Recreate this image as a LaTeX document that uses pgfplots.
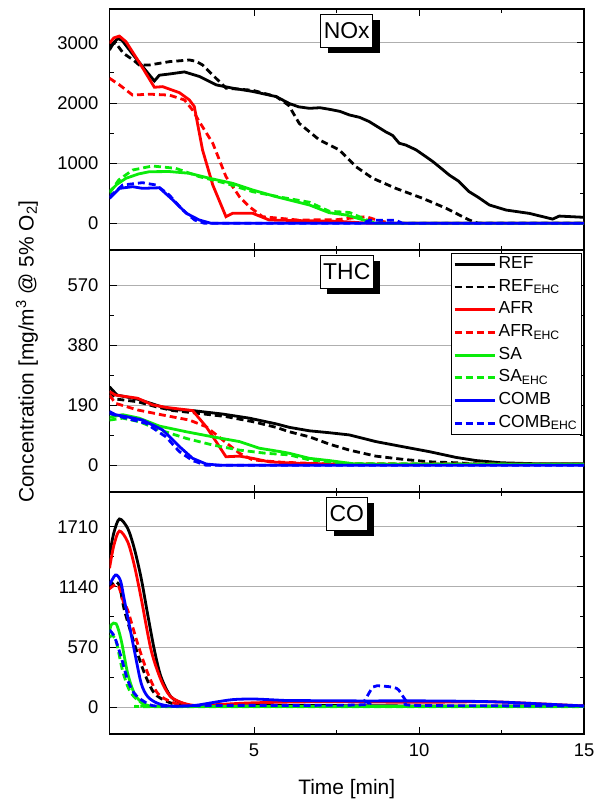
\documentclass[border=0pt]{standalone}
\usepackage{fontspec}
\setmainfont{Liberation Sans}
\usepackage{pgfplots}
\pgfplotsset{compat=1.18}
\usetikzlibrary{shadows}
\definecolor{cred}{RGB}{255,0,0}
\definecolor{cgreen}{RGB}{10,235,10}
\definecolor{cblue}{RGB}{0,0,255}
\definecolor{gridgray}{RGB}{175,175,175}
\tikzset{
  sol/.style={line width=2.8bp},
  ehc/.style={line width=2.8bp, dash pattern=on 7bp off 4bp},
  ttl/.style={draw=black, line width=0.8bp, fill=white, inner xsep=3bp, minimum height=33bp,
    font=\fontsize{23}{26}\selectfont,
    drop shadow={shadow xshift=7bp, shadow yshift=-6bp, fill=black, opacity=1}},
}
\pgfplotsset{
  panel/.style={
    scale only axis, width=474.5bp,
    xmin=0.62, xmax=15,
    xtick={5,10,15}, minor x tick num=1, minor y tick num=1,
    tick align=inside,
    major tick length=7bp, minor tick length=4bp,
    every tick/.style={black, line width=0.8bp},
    axis line style={line width=1.6bp},
    ymajorgrids, major grid style={gridgray, line width=0.8bp},
    tick label style={font=\fontsize{18.5}{20}\selectfont},
    /pgf/number format/assume math mode=true,
    /pgf/number format/1000 sep={},
    scaled y ticks=false,
    yticklabel style={xshift=-7.5bp},
    xticklabel style={yshift=-6bp},
    legend image code/.code={\draw[#1, line width=2.8bp] (0bp,0bp) -- (40bp,0bp);},
  },
}
\begin{document}
\begin{tikzpicture}
\useasboundingbox (0,0) rectangle (594bp,-800bp);
% ---------------- NOx ----------------
\begin{axis}[panel, at={(109.5bp,-9bp)}, anchor=north west, height=241bp,
  ymin=-443.5, ymax=3560, ytick={0,1000,2000,3000}, xticklabels={,,}]
\addplot[black, sol] coordinates {(0.62,2880) (0.75,3000) (0.87,3070) (1.0,3040) (1.34,2796) (1.75,2518) (1.98,2364) (2.13,2460) (2.43,2480) (2.89,2515) (3.34,2440) (3.85,2300) (4.35,2245) (4.96,2190) (5.67,2105) (6.07,1990) (6.35,1935) (6.68,1910) (7.0,1920) (7.28,1894) (7.6,1860) (7.89,1800) (8.2,1760) (8.49,1690) (8.99,1520) (9.2,1460) (9.40,1330) (9.6,1300) (9.91,1220) (10.2,1110) (10.42,1025) (10.7,900) (10.92,800) (11.2,700) (11.52,525) (11.8,430) (12.13,305) (12.64,220) (13.34,165) (14.05,70) (14.25,120) (14.98,100)};
\addplot[black, ehc] coordinates {(0.62,2950) (0.8,3000) (1.04,2824) (1.34,2713) (1.52,2630) (1.83,2630) (2.43,2685) (3.04,2713) (3.25,2690) (3.44,2630) (3.75,2463) (4.15,2245) (4.96,2210) (5.67,2105) (6.05,1960) (6.37,1660) (6.98,1385) (7.58,1220) (8.09,940) (8.59,750) (9.30,580) (10.11,415) (10.82,250) (11.52,55) (11.8,0) (15,0)};
\addplot[cred, sol] coordinates {(0.62,2990) (0.75,3080) (0.92,3110) (1.12,3017) (1.54,2657) (1.98,2260) (2.23,2270) (2.74,2170) (3.04,2050) (3.19,1940) (3.44,1218) (3.75,636) (4.15,110) (4.35,166) (4.96,166) (5.46,55) (6.32,45) (7.5,35) (8.2,10) (8.5,0) (15,0)};
\addplot[cred, ehc] coordinates {(0.62,2410) (0.92,2300) (1.32,2130) (1.83,2145) (2.43,2130) (2.89,2050) (3.14,1880) (3.34,1690) (3.75,1330) (4.15,775) (4.56,440) (4.86,275) (5.26,110) (6.32,55) (7.5,60) (8.0,90) (8.4,110) (8.8,40) (9.2,0) (15,0)};
\addplot[cgreen, sol] coordinates {(0.62,525) (0.85,650) (1.12,748) (1.5,820) (1.83,857) (2.43,860) (3.04,831) (3.65,748) (4.35,664) (4.96,553) (5.67,442) (6.07,387) (6.68,304) (7.28,176) (7.79,138) (8.4,43) (8.7,0) (15,0)};
\addplot[cgreen, ehc] coordinates {(0.62,500) (0.9,720) (1.32,885) (1.92,952) (2.63,913) (3.34,775) (4.15,664) (4.96,525) (5.9,425) (6.68,350) (7.28,200) (7.89,180) (8.4,60) (8.7,0) (15,0)};
\addplot[cblue, sol] coordinates {(0.62,415) (0.92,580) (1.32,608) (1.62,581) (2.13,590) (2.54,387) (2.95,166) (3.34,55) (3.7,0) (15,0)};
\addplot[cblue, ehc] coordinates {(0.62,440) (1.02,636) (1.62,675) (2.03,636) (2.43,470) (2.84,221) (3.2,55) (3.5,0) (8.3,0) (8.5,50) (9.3,50) (9.5,0) (15,0)};
\node[ttl] at (rel axis cs:0.5,0.91) {NOx};
\end{axis}
% ---------------- THC ----------------
\begin{axis}[panel, at={(109.5bp,-250bp)}, anchor=north west, height=242bp,
  ymin=-84.4, ymax=680.6, ytick={0,190,380,570}, xticklabels={,,},
  legend cell align=left,
  legend style={at={(0.996,0.988)}, anchor=north east, draw=black, line width=0.8bp,
    font=\fontsize{17.5}{19}\selectfont, inner sep=2bp, row sep=4.7bp,
    nodes={inner xsep=2.5bp, inner ysep=0bp, text height=13bp, text depth=5bp}}]
\addplot[black, sol] coordinates {(0.62,248) (0.85,222) (1.47,209) (1.93,194) (2.43,177) (3.14,173) (4.05,162) (4.86,149) (5.67,131) (6.07,120) (6.68,109) (7.28,103) (7.89,96) (8.69,75) (9.5,59) (10.32,43) (11.12,25) (11.73,15) (12.5,8) (13.5,5) (15,5)};
\addlegendentry{REF}
\addplot[black, ehc] coordinates {(0.62,233) (0.85,209) (1.47,201) (2.03,185) (2.54,173) (3.34,164) (4.15,154) (4.96,138) (5.67,120) (6.07,106) (6.68,90) (7.28,67) (7.89,48) (8.69,29) (9.5,19) (10.32,11) (11.12,8) (12,3) (15,3)};
\addlegendentry{REF\textsubscript{EHC}}
\addplot[cred, sol] coordinates {(0.62,233) (0.8,222) (1.47,212) (1.93,191) (2.34,183) (3.14,173) (3.55,122) (3.85,75) (4.15,27) (4.56,29) (4.96,22) (5.46,11) (6.37,6) (8,3) (15,3)};
\addlegendentry{AFR}
\addplot[cred, ehc] coordinates {(0.62,222) (0.8,196) (1.47,175) (2.23,159) (3.04,143) (3.55,122) (4.05,80) (4.56,38) (4.96,17) (5.8,10) (7,5) (15,3)};
\addlegendentry{AFR\textsubscript{EHC}}
\addplot[cgreen, sol] coordinates {(0.62,152) (1.02,160) (1.52,149) (2.13,124) (2.95,106) (3.75,90) (4.56,75) (5.16,54) (5.81,43) (6.07,38) (6.68,22) (7.28,15) (8,5) (9,3) (15,3)};
\addlegendentry{SA}
\addplot[cgreen, ehc] coordinates {(0.62,143) (1.02,149) (1.52,138) (2.13,112) (2.95,85) (3.75,64) (4.56,48) (5.36,38) (6.07,33) (6.68,17) (7.28,11) (8,5) (15,3)};
\addlegendentry{SA\textsubscript{EHC}}
\addplot[cblue, sol] coordinates {(0.62,170) (0.8,160) (1.12,154) (1.62,143) (2.23,112) (2.74,59) (3.14,22) (3.55,4) (4,0) (15,0)};
\addlegendentry{COMB}
\addplot[cblue, ehc] coordinates {(0.62,164) (1.12,149) (1.72,133) (2.33,90) (2.74,43) (3.14,15) (3.55,0) (15,0)};
\addlegendentry{COMB\textsubscript{EHC}}
\node[ttl] at (rel axis cs:0.5,0.91) {THC};
\end{axis}
% ---------------- CO ----------------
\begin{axis}[panel, at={(109.5bp,-492bp)}, anchor=north west, height=242bp,
  ymin=-256, ymax=2039, ytick={0,570,1140,1710}]
\addplot[black, sol, smooth, tension=0.5] coordinates {(0.62,1440) (0.75,1650) (0.92,1783) (1.17,1695) (1.37,1505) (1.58,1221) (1.78,873) (1.98,541) (2.18,287) (2.48,98) (2.84,35) (3.2,10) (4,10) (6,15) (10,10) (15,10)};
\addplot[black, ehc, smooth, tension=0.5] coordinates {(0.62,1126) (0.76,1188) (0.92,1150) (1.07,920) (1.37,604) (1.68,320) (1.98,130) (2.38,50) (2.8,15) (3.5,5) (15,5)};
\addplot[cred, sol, smooth, tension=0.5] coordinates {(0.62,1316) (0.75,1530) (0.92,1669) (1.17,1568) (1.37,1347) (1.58,1031) (1.88,541) (2.18,256) (2.44,110) (2.74,50) (3.2,15) (4,25) (5,40) (7,50) (10,45) (12,50) (13,40) (15,10)};
\addplot[cred, ehc, smooth, tension=0.5] coordinates {(0.62,1120) (0.87,1157) (1.07,967) (1.17,920) (1.47,604) (1.78,320) (2.08,130) (2.48,50) (2.9,15) (3.5,5) (15,5)};
\addplot[cgreen, sol, smooth, tension=0.5] coordinates {(0.62,700) (0.67,778) (0.82,790) (0.97,640) (1.17,320) (1.37,130) (1.58,50) (1.9,8) (3,5) (15,5)};
\addplot[cgreen, ehc, smooth, tension=0.5] coordinates {(0.62,660) (0.72,680) (0.84,600) (1.02,340) (1.22,161) (1.47,66) (1.8,15) (2.3,3) (15,3)};
\addplot[cblue, sol, smooth, tension=0.5] coordinates {(0.62,1157) (0.8,1252) (0.95,1200) (1.07,1015) (1.37,541) (1.58,225) (1.78,98) (2.08,35) (2.5,8) (3.2,15) (3.8,45) (4.35,70) (4.96,76) (5.7,66) (6.07,62) (8.1,58) (10.2,58) (12.2,50) (14,25) (15,10)};
\addplot[cblue, ehc, smooth, tension=0.5] coordinates {(0.62,730) (0.77,667) (0.97,477) (1.17,256) (1.37,130) (1.68,50) (2.1,8) (4,15) (8.2,20) (8.36,66) (8.61,190) (8.87,199) (9.32,177) (9.52,98) (9.67,40) (10,15) (15,10)};
\node[ttl] at (rel axis cs:0.5,0.91) {CO};
\end{axis}
\node[rotate=90, font=\fontsize{21}{24}\selectfont] at (27bp,-351.5bp) {Concentration [mg/m\textsuperscript{3} @ 5\% O\textsubscript{2}]};
\node[anchor=base, font=\fontsize{21}{24}\selectfont] at (346.7bp,-794bp) {Time [min]};
\end{tikzpicture}
\end{document}
